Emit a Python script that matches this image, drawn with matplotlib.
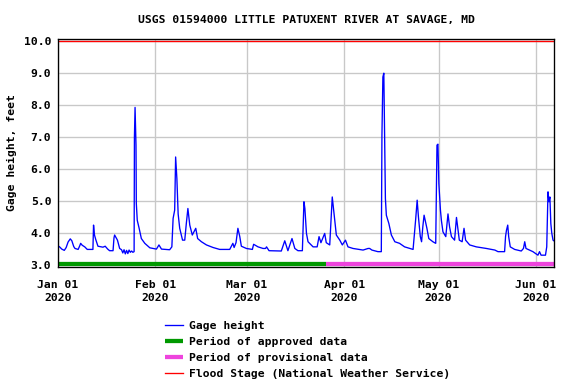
import pandas as pd
import matplotlib
matplotlib.use('Agg')
import matplotlib.pyplot as plt
import matplotlib.dates as mdates

plt.rcParams['font.family'] = 'DejaVu Sans Mono'
plt.rcParams['font.weight'] = 'bold'

start = pd.Timestamp('2020-01-01')

# days since Jan 1 2020, gage height in feet
gage_days = [0.0, 0.5, 1.2, 2.0, 2.6, 3.2, 3.9, 4.4, 5.0, 5.4, 6.4, 6.9, 7.2, 7.7, 8.5, 9.3,
             11.1, 11.3, 11.6, 12.0, 12.7, 14.3, 15.0, 15.8, 16.4, 17.5, 17.8, 18.0, 18.9, 19.6,
             20.2, 20.6, 21.0, 21.4, 21.8, 22.2, 22.6, 23.0, 23.4, 23.8, 24.2, 24.3, 24.5, 24.65,
             24.8, 24.9, 25.2, 25.8, 26.5, 27.6, 29.2, 31.3, 32.1, 32.9, 35.5, 36.2, 36.6, 37.1,
             37.4, 37.8, 38.2, 38.7, 39.6, 40.3, 40.8, 41.3, 41.9, 42.7, 43.8, 44.4, 45.6, 47.2,
             49.3, 51.4, 54.6, 55.6, 56.0, 56.6, 57.2, 57.8, 58.3, 59.9, 61.8, 62.2, 63.6, 65.2,
             66.0, 66.3, 67.1, 71.0, 72.1, 72.6, 73.1, 74.4, 75.3, 76.3, 77.7, 78.2, 78.5, 79.0,
             79.5, 81.1, 82.4, 83.0, 83.6, 84.8, 85.3, 86.4, 87.2, 87.6, 88.5, 89.6, 90.4, 91.4,
             92.2, 93.8, 97.0, 98.6, 99.1, 99.8, 101.7, 102.8, 103.0, 103.3, 103.6, 103.8, 104.1,
             104.4, 105.2, 106.0, 107.1, 108.6, 110.2, 112.9, 113.7, 114.2, 114.6, 115.2, 115.6,
             116.0, 116.4, 117.3, 117.9, 119.2, 120.1, 120.5, 120.8, 121.1, 121.6, 121.9, 122.4,
             123.3, 124.0, 124.5, 125.1, 126.1, 126.7, 127.2, 127.6, 128.5, 129.1, 129.6, 130.9,
             133.0, 136.2, 138.9, 139.9, 142.0, 142.3, 142.6, 143.0, 143.3, 143.8, 145.2, 147.3,
             148.0, 148.4, 148.8, 151.0, 152.6, 153.1, 153.6, 155.0, 155.4, 155.8, 156.1, 156.4,
             156.7, 157.0, 157.4, 157.8]
gage_ft = [3.60, 3.57, 3.50, 3.46, 3.55, 3.72, 3.82, 3.76, 3.58, 3.52, 3.49, 3.60, 3.68, 3.62, 3.57, 3.49,
           3.49, 4.25, 3.94, 3.80, 3.59, 3.56, 3.59, 3.50, 3.45, 3.45, 3.85, 3.94, 3.78, 3.52,
           3.48, 3.38, 3.48, 3.35, 3.46, 3.36, 3.47, 3.40, 3.44, 3.40, 3.42, 7.00, 7.93, 7.30,
           6.75, 4.93, 4.40, 4.15, 3.83, 3.68, 3.54, 3.50, 3.63, 3.50, 3.48, 3.57, 4.46, 4.72,
           6.38, 5.70, 4.60, 4.15, 3.78, 3.78, 4.30, 4.77, 4.25, 3.94, 4.15, 3.83, 3.73, 3.63,
           3.55, 3.49, 3.49, 3.68, 3.55, 3.70, 4.15, 3.89, 3.59, 3.52, 3.49, 3.65, 3.57, 3.52,
           3.52, 3.57, 3.45, 3.44, 3.76, 3.60, 3.45, 3.83, 3.52, 3.45, 3.45, 4.98, 4.77, 3.99,
           3.73, 3.57, 3.57, 3.89, 3.70, 3.99, 3.70, 3.63, 5.13, 4.77, 3.94, 3.78, 3.63, 3.78,
           3.57, 3.52, 3.47, 3.52, 3.52, 3.47, 3.42, 3.42, 7.06, 8.88, 9.00, 7.32, 5.08,
           4.56, 4.30, 3.94, 3.73, 3.68, 3.57, 3.49, 4.40, 5.03, 4.51, 3.89, 3.73,
           4.20, 4.56, 4.15, 3.83, 3.73, 3.68, 6.75, 6.78, 5.55, 4.72, 4.40, 4.04,
           3.89, 4.60, 4.20, 3.89, 3.78, 4.49, 4.09, 3.78, 3.73, 4.15, 3.78, 3.63,
           3.57, 3.52, 3.47, 3.42, 3.42, 3.89, 4.09, 4.25, 3.89, 3.57, 3.49, 3.44,
           3.52, 3.73, 3.52, 3.42, 3.31, 3.42, 3.31, 3.31, 3.57, 5.29, 4.98, 5.13,
           4.30, 4.00, 3.78, 3.75]

approved_days = [0.0, 85.3]
provisional_days = [85.3, 157.8]
flood_stage = 10.0

month_ticks = ['2020-01-01', '2020-02-01', '2020-03-01', '2020-04-01', '2020-05-01', '2020-06-01']
y_ticks = [3, 4, 5, 6, 7, 8, 9, 10]

gage_t = start + pd.to_timedelta(gage_days, unit='D')
appr_t = start + pd.to_timedelta(approved_days, unit='D')
prov_t = start + pd.to_timedelta(provisional_days, unit='D')

fig = plt.figure(figsize=(6, 4), dpi=96)
ax = fig.add_axes([0.1007, 0.3055, 0.8616, 0.5922])

ax.plot(gage_t, gage_ft, color='#0000ff', lw=1.0, label='Gage height')
ax.plot(appr_t, [3.02, 3.02], color='#009900', lw=3.2, solid_capstyle='butt',
        label='Period of approved data', clip_on=False)
ax.plot(prov_t, [3.02, 3.02], color='#ee44dd', lw=3.2, solid_capstyle='butt',
        label='Period of provisional data', clip_on=False)
ax.axhline(flood_stage, color='#ff0000', lw=1.0, label='Flood Stage (National Weather Service)')

ax.set_xlim(start, start + pd.Timedelta(days=157.8))
ax.set_ylim(2.95, 10.06)
ax.set_yticks(y_ticks)
ax.yaxis.set_major_formatter(plt.FormatStrFormatter('%.1f'))
ax.set_xticks(pd.to_datetime(month_ticks))
ax.xaxis.set_major_formatter(mdates.DateFormatter('%b %d\n%Y'))
ax.tick_params(length=0, labelsize=8.5, pad=5)
ax.tick_params(axis='x', pad=10)
for lab in ax.get_xticklabels():
    lab.set_linespacing(1.35)
for lab in ax.get_xticklabels() + ax.get_yticklabels():
    lab.set_fontweight('bold')
ax.grid(True, color='#c8c8c8', lw=1.0)
ax.set_axisbelow(True)
for s in ax.spines.values():
    s.set_linewidth(1.0)

ax.set_ylabel('Gage height, feet', fontsize=8.5, fontweight='bold', labelpad=5)
ax.set_title('USGS 01594000 LITTLE PATUXENT RIVER AT SAVAGE, MD', fontsize=8.5,
             fontweight='bold', pad=12)

fig.legend(loc='upper left', bbox_to_anchor=(0.287, 0.165), frameon=False,
           fontsize=8.5, handlelength=1.6, handletextpad=0.45, labelspacing=0.55,
           borderpad=0, borderaxespad=0)

fig.savefig('out.png', dpi=96)
